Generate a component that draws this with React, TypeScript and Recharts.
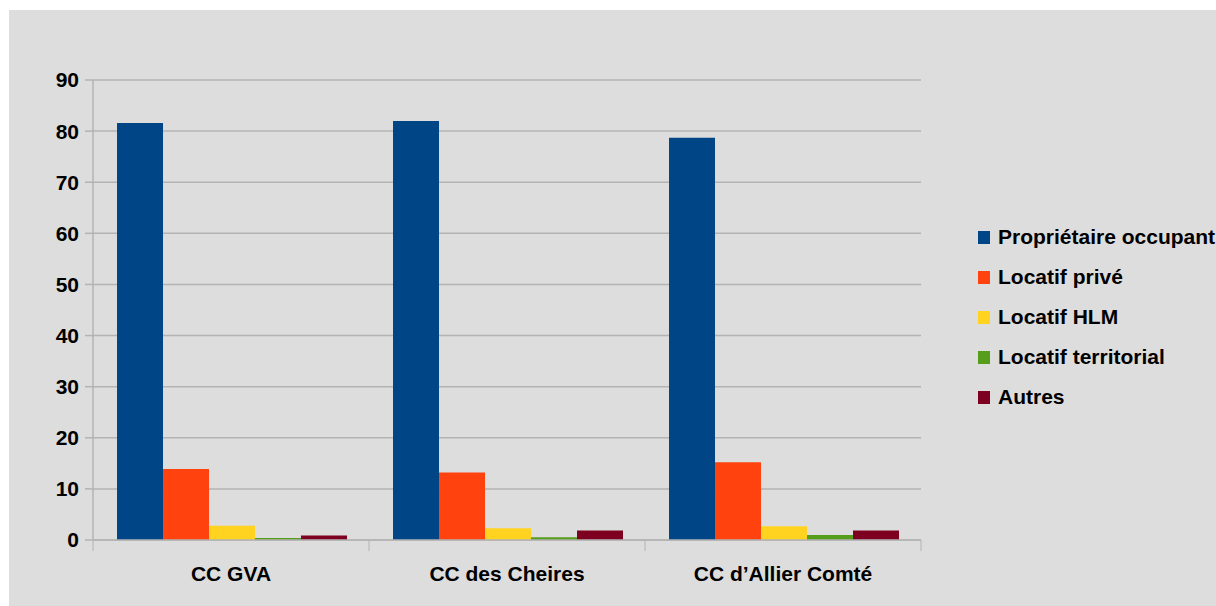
import React from "react";
import { BarChart, Bar, XAxis, YAxis, CartesianGrid, Legend } from "recharts";

const categories = ["CC GVA", "CC des Cheires", "CC d\u2019Allier Comt\u00e9"];
const proprietaire = [81.6, 82.0, 78.7];
const locatifPrive = [13.9, 13.2, 15.2];
const locatifHLM = [2.8, 2.3, 2.7];
const locatifTerritorial = [0.4, 0.55, 1.0];
const autres = [0.9, 1.85, 1.85];
const yTicks = [0, 10, 20, 30, 40, 50, 60, 70, 80, 90];

const seriesNames = [
  "Propri\u00e9taire occupant",
  "Locatif priv\u00e9",
  "Locatif HLM",
  "Locatif territorial",
  "Autres",
];
const seriesColors = ["#004586", "#ff420e", "#ffd320", "#579d1c", "#7e0021"];
const seriesValues = [proprietaire, locatifPrive, locatifHLM, locatifTerritorial, autres];

const data = categories.map((c, i) => {
  const row: Record<string, any> = { name: c };
  seriesNames.forEach((s, k) => {
    row["s" + k] = seriesValues[k][i];
  });
  return row;
});

const GRID = "#b3b3b3";
const FONT = "'Liberation Sans', Arial, sans-serif";
const X_TICK_SIZE = 11;
const X_TICK_MARGIN = 15;

const XTick = (props: any) => {
  const { x, y, payload, index, visibleTicksCount } = props;
  const half = payload && typeof payload.offset === "number" ? payload.offset : 0;
  const axisY = y - X_TICK_SIZE - X_TICK_MARGIN;
  return (
    <g>
      <line x1={x - half} x2={x - half} y1={axisY} y2={axisY + X_TICK_SIZE} stroke={GRID} strokeWidth={1} />
      {index === visibleTicksCount - 1 && (
        <line x1={x + half} x2={x + half} y1={axisY} y2={axisY + X_TICK_SIZE} stroke={GRID} strokeWidth={1} />
      )}
      <text
        x={x}
        y={y}
        dy="0.71em"
        textAnchor="middle"
        fill="#000"
        style={{ fontFamily: FONT, fontWeight: 700, fontSize: 21 }}
      >
        {payload.value}
      </text>
    </g>
  );
};

const LegendContent = () => {
  return (
    <div style={{ fontFamily: FONT, fontWeight: 700, fontSize: 21, color: "#000" }}>
      {seriesNames.map((name, i) => (
        <div
          key={name}
          style={{ display: "flex", alignItems: "center", height: 40, whiteSpace: "nowrap" }}
        >
          <span
            style={{
              display: "inline-block",
              width: 12,
              height: 13,
              background: seriesColors[i],
              marginRight: 8,
            }}
          />
          <span>{name}</span>
        </div>
      ))}
    </div>
  );
};

export default function App() {
  return (
    <div
      style={{
        position: "absolute",
        left: 9,
        top: 10,
        width: 1207,
        height: 596,
        background: "#dddddd",
        overflow: "hidden",
      }}
    >
      <BarChart
        width={1207}
        height={596}
        data={data}
        margin={{ top: 70, right: 295, bottom: 0, left: 0 }}
        barCategoryGap="8.7%"
        barGap={0}
      >
        <CartesianGrid vertical={false} stroke={GRID} strokeWidth={1.5} />
        <XAxis
          dataKey="name"
          height={66}
          axisLine={{ stroke: GRID, strokeWidth: 1.5 }}
          tickLine={false}
          tickSize={X_TICK_SIZE}
          tickMargin={X_TICK_MARGIN}
          tick={<XTick />}
          interval={0}
        />
        <YAxis
          width={84}
          domain={[0, 90]}
          ticks={yTicks}
          interval={0}
          axisLine={{ stroke: GRID, strokeWidth: 1.5 }}
          tickLine={{ stroke: GRID, strokeWidth: 1.5 }}
          tickSize={8}
          tickMargin={6}
          tick={{ fill: "#000", fontFamily: FONT, fontWeight: 700, fontSize: 21 }}
        />
        <YAxis
          yAxisId="r"
          orientation="right"
          width={0}
          domain={[0, 90]}
          tick={false}
          tickLine={false}
          axisLine={{ stroke: GRID, strokeWidth: 1.5 }}
        />
        <Legend
          layout="vertical"
          align="center"
          verticalAlign="middle"
          content={<LegendContent />}
          wrapperStyle={{ left: 969, top: 207, width: 260 }}
        />
        {seriesNames.map((s, k) => (
          <Bar
            key={s}
            dataKey={"s" + k}
            name={s}
            fill={seriesColors[k]}
            isAnimationActive={false}
          />
        ))}
      </BarChart>
    </div>
  );
}
